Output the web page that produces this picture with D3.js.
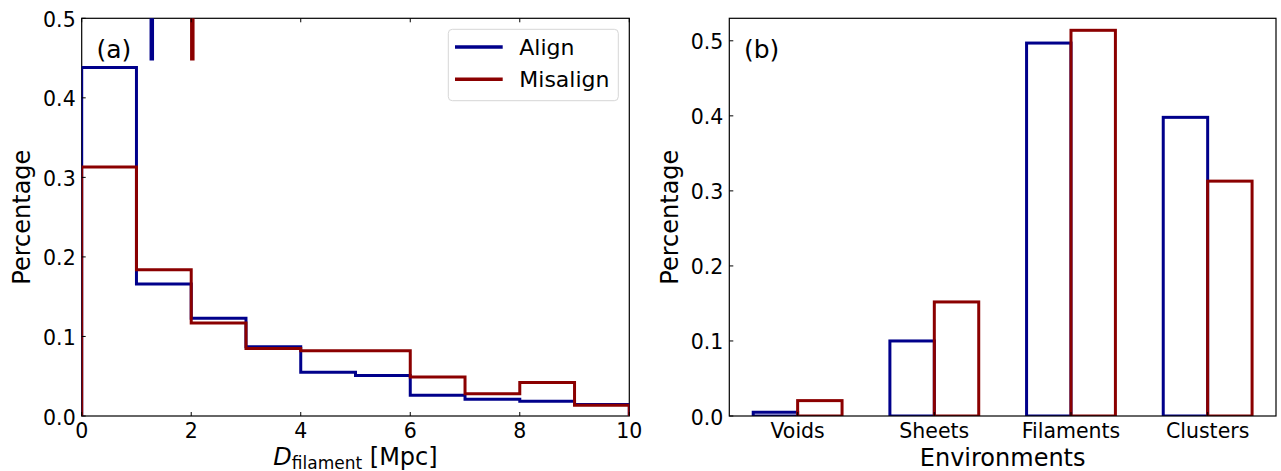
<!DOCTYPE html>
<html>
<head>
<meta charset="utf-8">
<script src="https://cdn.jsdelivr.net/npm/d3@7"></script>
<style>
  body { margin: 0; background: #fff; }
  svg { font-family: "DejaVu Sans", sans-serif; }
  .tick-label { font-size: 20.5px; fill: #000; }
  .axis-label { font-size: 24px; fill: #000; }
</style>
</head>
<body>
<div id="chart"></div>
<script>
// histogram of distance to filament (bin edges in Mpc)
var binEdges = [0, 1, 2, 3, 4, 5, 6, 7, 8, 9, 10];
var alignHist = [0.438, 0.166, 0.123, 0.087, 0.055, 0.051, 0.026, 0.021, 0.0185, 0.0145];
var misalignHist = [0.313, 0.184, 0.117, 0.085, 0.082, 0.082, 0.049, 0.028, 0.042, 0.0135];
// median markers on top of panel (a)
var alignMedian = 1.28;
var misalignMedian = 2.02;

// environment fractions
var environments = ["Voids", "Sheets", "Filaments", "Clusters"];
var alignEnv = [0.005, 0.100, 0.497, 0.398];
var misalignEnv = [0.0205, 0.152, 0.514, 0.313];

var xTicksA = [0, 2, 4, 6, 8, 10];
var yTicksA = [0.0, 0.1, 0.2, 0.3, 0.4, 0.5];
var yTicksB = [0.0, 0.1, 0.2, 0.3, 0.4, 0.5];
var seriesNames = ["Align", "Misalign"];

var blue = "#00008b",
  red = "#8b0000";

var svg = d3.select("#chart").append("svg")
  .attr("width", 1281)
  .attr("height", 471);

// panel frames
var panelA = { left: 81.7, right: 629.3, top: 18.3, bottom: 416 };
var panelB = { left: 729.3, right: 1276, top: 18.3, bottom: 416 };

// set the ranges
var xA = d3.scaleLinear().domain([0, 10]).range([panelA.left, panelA.right]);
var yA = d3.scaleLinear().domain([0, 0.5]).range([panelA.bottom, panelA.top]);
var xB = d3.scaleLinear().domain([-0.5, 3.5]).range([panelB.left, panelB.right]);
var yB = d3.scaleLinear().domain([0, 0.53]).range([panelB.bottom, panelB.top]);

var barWidth = 0.325;
var fmt = d3.format(".1f");

// clip paths
var defs = svg.append("defs");
[["clipA", panelA], ["clipB", panelB]].forEach(function (c) {
  defs.append("clipPath").attr("id", c[0])
    .append("rect")
    .attr("x", c[1].left)
    .attr("y", c[1].top - 2)
    .attr("width", c[1].right - c[1].left)
    .attr("height", c[1].bottom - c[1].top + 2);
});

// ---------- panel (a) ----------
function stepPoints(values) {
  var pts = [[binEdges[0], 0]];
  values.forEach(function (v, i) {
    pts.push([binEdges[i], v]);
    pts.push([binEdges[i + 1], v]);
  });
  pts.push([binEdges[binEdges.length - 1], 0]);
  return pts;
}

var stepLine = d3.line()
  .x(function (d) { return xA(d[0]); })
  .y(function (d) { return yA(d[1]); });

var gA = svg.append("g");

// frame
gA.append("rect")
  .attr("x", panelA.left).attr("y", panelA.top)
  .attr("width", panelA.right - panelA.left)
  .attr("height", panelA.bottom - panelA.top)
  .attr("fill", "none").attr("stroke", "#000").attr("stroke-width", 1.2);

var plotA = gA.append("g").attr("clip-path", "url(#clipA)");

plotA.append("path")
  .datum(stepPoints(alignHist))
  .attr("d", stepLine)
  .attr("fill", "none").attr("stroke", blue).attr("stroke-width", 3);

plotA.append("path")
  .datum(stepPoints(misalignHist))
  .attr("d", stepLine)
  .attr("fill", "none").attr("stroke", red).attr("stroke-width", 3);

// median markers
[[alignMedian, blue], [misalignMedian, red]].forEach(function (m) {
  plotA.append("line")
    .attr("x1", xA(m[0])).attr("x2", xA(m[0]))
    .attr("y1", yA(0.447)).attr("y2", yA(0.5))
    .attr("stroke", m[1]).attr("stroke-width", 4.5);
});

// x ticks (bottom and top, inward)
xTicksA.forEach(function (t) {
  gA.append("line")
    .attr("x1", xA(t)).attr("x2", xA(t))
    .attr("y1", panelA.bottom).attr("y2", panelA.bottom - 4)
    .attr("stroke", "#000").attr("stroke-width", 1);
  gA.append("line")
    .attr("x1", xA(t)).attr("x2", xA(t))
    .attr("y1", panelA.top).attr("y2", panelA.top + 4)
    .attr("stroke", "#000").attr("stroke-width", 1);
  gA.append("text")
    .attr("class", "tick-label")
    .attr("x", xA(t)).attr("y", 438)
    .attr("text-anchor", "middle")
    .text(t);
});

// y ticks
yTicksA.forEach(function (t) {
  gA.append("line")
    .attr("x1", panelA.left).attr("x2", panelA.left + 4)
    .attr("y1", yA(t)).attr("y2", yA(t))
    .attr("stroke", "#000").attr("stroke-width", 1);
  gA.append("text")
    .attr("class", "tick-label")
    .attr("x", panelA.left - 6).attr("y", yA(t) + 8.5)
    .attr("text-anchor", "end")
    .text(fmt(t));
});

// axis labels
var xlabA = gA.append("text")
  .attr("class", "axis-label")
  .attr("x", (panelA.left + panelA.right) / 2).attr("y", 465)
  .attr("text-anchor", "middle");
xlabA.append("tspan").attr("font-style", "italic").text("D");
xlabA.append("tspan").attr("font-size", "17px").attr("dy", 3.5).text("filament");
xlabA.append("tspan").attr("dy", -3.5).text(" [Mpc]");

gA.append("text")
  .attr("class", "axis-label")
  .attr("transform", "translate(30," + (panelA.top + panelA.bottom) / 2 + ") rotate(-90)")
  .attr("text-anchor", "middle")
  .text("Percentage");

gA.append("text")
  .attr("x", 96.5).attr("y", 58)
  .attr("font-size", "25px")
  .text("(a)");

// legend
var legend = gA.append("g");
legend.append("rect")
  .attr("x", 448.3).attr("y", 29.3)
  .attr("width", 170).attr("height", 71.4)
  .attr("rx", 4)
  .attr("fill", "#fff").attr("fill-opacity", 0.8)
  .attr("stroke", "#d6d6d6").attr("stroke-width", 1);

[[seriesNames[0], blue, 47], [seriesNames[1], red, 79.3]].forEach(function (l) {
  legend.append("line")
    .attr("x1", 455).attr("x2", 502.7)
    .attr("y1", l[2]).attr("y2", l[2])
    .attr("stroke", l[1]).attr("stroke-width", 3.5);
  legend.append("text")
    .attr("x", 519.3).attr("y", l[2] + 8)
    .attr("font-size", "22px")
    .text(l[0]);
});

// ---------- panel (b) ----------
var gB = svg.append("g");

var plotB = gB.append("g").attr("clip-path", "url(#clipB)");

var barData = [];
environments.forEach(function (e, i) {
  barData.push({ i: i, offset: -barWidth, value: alignEnv[i], color: blue });
});
environments.forEach(function (e, i) {
  barData.push({ i: i, offset: 0, value: misalignEnv[i], color: red });
});

plotB.selectAll("rect.bar")
  .data(barData)
  .enter().append("rect")
  .attr("class", "bar")
  .attr("x", function (d) { return xB(d.i + d.offset); })
  .attr("width", function (d) { return xB(barWidth) - xB(0); })
  .attr("y", function (d) { return yB(d.value); })
  .attr("height", function (d) { return yB(0) - yB(d.value); })
  .attr("fill", "none")
  .attr("stroke", function (d) { return d.color; })
  .attr("stroke-width", 3);

gB.append("rect")
  .attr("x", panelB.left).attr("y", panelB.top)
  .attr("width", panelB.right - panelB.left)
  .attr("height", panelB.bottom - panelB.top)
  .attr("fill", "none").attr("stroke", "#000").attr("stroke-width", 1.2);

environments.forEach(function (e, i) {
  gB.append("line")
    .attr("x1", xB(i)).attr("x2", xB(i))
    .attr("y1", panelB.bottom).attr("y2", panelB.bottom - 4)
    .attr("stroke", "#000").attr("stroke-width", 1);
  gB.append("text")
    .attr("class", "tick-label")
    .attr("x", xB(i)).attr("y", 438)
    .attr("text-anchor", "middle")
    .text(e);
});

yTicksB.forEach(function (t) {
  gB.append("line")
    .attr("x1", panelB.left).attr("x2", panelB.left + 4)
    .attr("y1", yB(t)).attr("y2", yB(t))
    .attr("stroke", "#000").attr("stroke-width", 1);
  gB.append("text")
    .attr("class", "tick-label")
    .attr("x", panelB.left - 6).attr("y", yB(t) + 8.5)
    .attr("text-anchor", "end")
    .text(fmt(t));
});

gB.append("text")
  .attr("class", "axis-label")
  .attr("x", (panelB.left + panelB.right) / 2).attr("y", 466)
  .attr("text-anchor", "middle")
  .text("Environments");

gB.append("text")
  .attr("class", "axis-label")
  .attr("transform", "translate(678," + (panelB.top + panelB.bottom) / 2 + ") rotate(-90)")
  .attr("text-anchor", "middle")
  .text("Percentage");

gB.append("text")
  .attr("x", 744).attr("y", 58)
  .attr("font-size", "25px")
  .text("(b)");
</script>
</body>
</html>
